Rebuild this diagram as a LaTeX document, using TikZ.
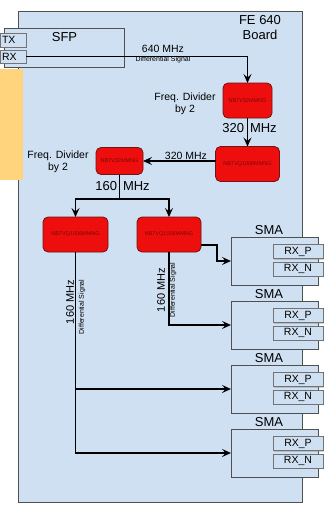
\documentclass[tikz,border=0pt]{standalone}
\usepackage{fontspec}
\setmainfont{Liberation Sans}
\usetikzlibrary{arrows.meta,shadows,calc}
\definecolor{boardblue}{RGB}{207,224,242}
\definecolor{boardedge}{RGB}{80,80,80}
\definecolor{chipred}{RGB}{238,14,14}
\definecolor{chipedge}{RGB}{110,20,20}
\definecolor{chiptext}{RGB}{120,10,10}
\definecolor{orangepad}{RGB}{255,212,125}
\begin{document}
\begin{tikzpicture}[x=1pt,y=-1pt,
  every node/.style={inner sep=0pt,outer sep=0pt},
  panel/.style={draw=boardedge,fill=boardblue,line width=0.8pt},
  shade/.style={drop shadow={opacity=0.35,shadow xshift=1.2pt,shadow yshift=-1.2pt}},
  chip/.style={draw=chipedge,fill=chipred,rounded corners=5pt,line width=0.8pt,font=\fontsize{5.5}{6}\selectfont,text=chiptext},
  port/.style={panel,draw=boardedge!80,shade},
  wire/.style={line width=1.9pt,black},
  arr/.style={wire,-{Stealth[length=9pt,width=8pt,inset=3.5pt]}},
  lbl/.style={font=\fontsize{10.5}{12}\selectfont},
  rot/.style={font=\fontsize{11}{12}\selectfont,rotate=90},
  big/.style={font=\fontsize{13}{15}\selectfont},
  tiny/.style={font=\fontsize{7}{8}\selectfont}
]
\useasboundingbox (0,0) rectangle (327,517);
% board
\node[panel,shade,minimum width=284pt,minimum height=491pt] (board) at (160,256.5) {};
\node[fill=orangepad,minimum width=23pt,minimum height=111pt] (pad) at (11.5,124.5) {};
\node[big,align=center] (title) at (260,28) {FE 640\\Board};
% SFP
\node[panel,minimum width=120pt,minimum height=39pt] (sfp) at (64,47.5) {};
\node[big] (sfpL) at (64.5,37) {SFP};
\node[port,minimum width=26pt,minimum height=14pt] (tx) at (13,40) {};
\node[lbl,anchor=west] (txL) at (2,40) {TX};
\node[port,minimum width=26pt,minimum height=13pt] (rx) at (13,56.5) {};
\node[lbl,anchor=west] (rxL) at (2,56.5) {RX};
% chips
\node[chip,minimum width=49pt,minimum height=35pt] (div1) at (247.5,100.5) {NB7V32MMNG};
\node[chip,minimum width=64pt,minimum height=35pt] (div2) at (247.5,164) {NB7VQ1006MMNG};
\node[chip,minimum width=47pt,minimum height=27pt] (div3) at (119.5,161) {NB7V32MMNG};
\node[chip,minimum width=65pt,minimum height=35pt] (div4) at (75.5,234.5) {NB7VQ1006MMNG};
\node[chip,minimum width=64pt,minimum height=35pt] (div5) at (169,234.5) {NB7VQ1006MMNG};
% SMA connectors
\foreach \i/\t in {1/237,2/301,3/365,4/429}{
  \node[panel,shade,minimum width=87pt,minimum height=48pt] (sma\i) at (274.5,\t+24) {};
  \node[big] (smaL\i) at (269,\t-7) {SMA};
  \node[port,lbl,minimum width=50pt,minimum height=14pt] (rxp\i) at (298,\t+14.5) {RX\_P};
  \node[port,lbl,minimum width=50pt,minimum height=14pt] (rxn\i) at (298,\t+32) {RX\_N};
}
% wires and labels
\draw[arr] (rx.east) -| (div1.north);
\node[lbl] (f640) at (163,49) {640 MHz};
\node[tiny] (d640) at (163,60) {Differential Signal};
\node[lbl,align=center] (fd1) at (185,104) {Freq. Divider\\by 2};
\draw[arr] (div1.south) -- (div2.north);
\node[big,anchor=east] (n320a) at (244,128) {320};
\node[big,anchor=west] (n320b) at (250,128) {MHz};
\draw[arr] (div3.east -| div2.west) -- (div3.east);
\node[lbl] (n320c) at (186,156) {320 MHz};
\node[lbl,align=center] (fd2) at (58,162) {Freq. Divider\\by 2};
\coordinate (split) at (119.5,199);
\draw[wire] (div3.south) -- (split);
\draw[arr] (split) -| (div4.north);
\draw[arr] (split) -| (div5.north);
\node[big,anchor=east] (n160a) at (117,186) {160};
\node[big,anchor=west] (n160b) at (123,186) {MHz};
\draw[arr] (div4.south) |- (sma3.west);
\draw[arr] (div4.south) |- (sma4.west);
\node[rot] (v160a) at (70,302) {160 MHz};
\node[tiny,rotate=90] (vdsa) at (82,307) {Differential Signal};
\draw[arr] ($(div5.south east)+(0,-7)$) -- ++(16,0) |- (sma1.west);
\draw[arr] (div5.south) |- (sma2.west);
\node[rot] (v160b) at (161,290) {160 MHz};
\node[tiny,rotate=90] (vdsb) at (173,290) {Differential Signal};
\end{tikzpicture}
\end{document}
